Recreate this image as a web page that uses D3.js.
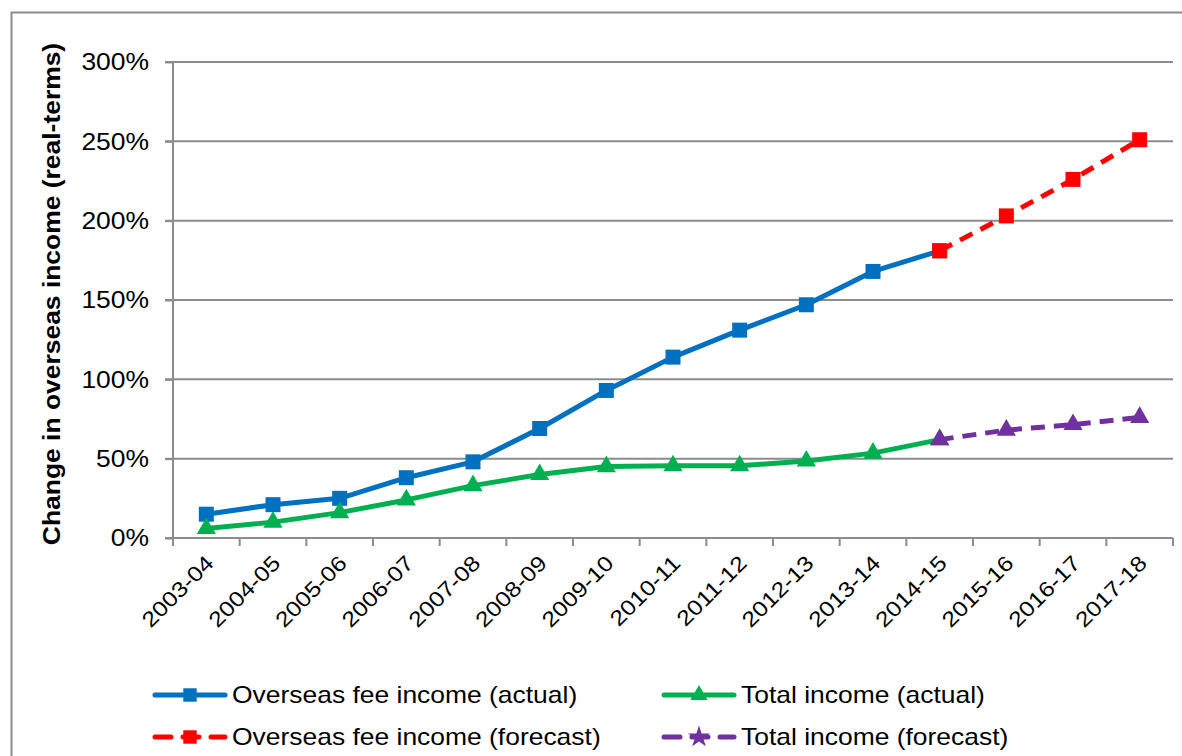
<!DOCTYPE html>
<html><head><meta charset="utf-8">
<script src="https://cdn.jsdelivr.net/npm/d3@7"></script>
<style>body{margin:0;background:#fff;}svg{display:block;font-family:"Liberation Sans",Arial,sans-serif;}</style>
</head><body><svg id="c" width="1182" height="756"></svg>
<script>
const categories = ["2003-04","2004-05","2005-06","2006-07","2007-08","2008-09","2009-10","2010-11","2011-12","2012-13","2013-14","2014-15","2015-16","2016-17","2017-18"];
const overseasActual = [15,21,25,38,48,69,93,114,131,147,168,181,null,null,null];
const totalActual = [6,10,16,24,33,40,45,45.5,45.5,48.5,53.5,62,null,null,null];
const overseasForecast = [null,null,null,null,null,null,null,null,null,null,null,181,203,226,251];
const totalForecast = [null,null,null,null,null,null,null,null,null,null,null,62,68,71.5,76];
const yTicks = [0,50,100,150,200,250,300];
const seriesNames = ["Overseas fee income (actual)","Total income (actual)","Overseas fee income (forecast)","Total income (forecast)"];

const svg = d3.select("#c");
const L=173, R=1173, T=62, B=538;
const SX = 1.15; // horizontal text stretch
const x = d3.scaleBand().domain(categories).range([L,R]);
const y = d3.scaleLinear().domain([0,300]).range([B,T]);
const grid="#8c8c8c";

// outer border
svg.append("path").attr("d",`M11.5,760 V12.5 H1190`).attr("fill","none").attr("stroke","#8c8c8c").attr("stroke-width",2);

// gridlines
svg.append("g").selectAll("line").data(yTicks.filter(d=>d>0)).join("line")
  .attr("x1",L-8).attr("x2",R).attr("y1",d=>y(d)).attr("y2",d=>y(d))
  .attr("stroke",grid).attr("stroke-width",2);

// y axis
const yAxis = d3.axisLeft(y).tickValues(yTicks).tickFormat("").tickSize(8);
const gy = svg.append("g").attr("transform",`translate(${L},0)`).call(yAxis);
gy.select(".domain").attr("stroke",grid).attr("stroke-width",2).attr("d",`M0,${T}V${B}`);
gy.selectAll(".tick line").attr("stroke",grid).attr("stroke-width",2);
svg.append("g").selectAll("text").data(yTicks).join("text")
  .attr("transform",d=>`translate(149,${y(d)}) scale(${SX},1)`)
  .attr("text-anchor","end").attr("dy","0.36em").attr("font-size",23).attr("fill","#000")
  .text(d=>d+"%");

// x axis baseline and ticks at band edges
svg.append("line").attr("x1",L-8).attr("x2",R).attr("y1",B).attr("y2",B).attr("stroke",grid).attr("stroke-width",2);
const edges = categories.map(c=>x(c)).concat([R]);
svg.append("g").selectAll("line").data(edges).join("line")
  .attr("x1",d=>d).attr("x2",d=>d).attr("y1",B).attr("y2",B+8).attr("stroke",grid).attr("stroke-width",2);
svg.append("g").selectAll("text").data(categories).join("text")
  .attr("transform",d=>`translate(${x(d)+x.bandwidth()/2-2},${B+16}) rotate(-45) scale(${SX},1)`)
  .attr("text-anchor","end").attr("dy","0.7em").attr("font-size",21.5).attr("fill","#000").text(d=>d);

// y title
svg.append("text").attr("transform",`translate(60,294) rotate(-90) scale(${SX},1)`)
  .attr("text-anchor","middle").attr("font-size",23).attr("font-weight","bold").attr("fill","#000")
  .text("Change in overseas income (real-terms)");

const cx = d=>x(d)+x.bandwidth()/2;
const line = d3.line().defined(d=>d.v!=null).x(d=>cx(d.c)).y(d=>y(d.v));
function pts(arr){return categories.map((c,i)=>({c,v:arr[i]}));}

const series = [
  {data:overseasActual,color:"#0070C0",dash:null,sym:"square"},
  {data:totalActual,color:"#00B050",dash:null,sym:"tri"},
  {data:overseasForecast,color:"#FF0000",dash:"14,9",sym:"square"},
  {data:totalForecast,color:"#7030A0",dash:"14,9",sym:"tri"}
];
series.forEach(s=>{
  svg.append("path").datum(pts(s.data)).attr("d",line).attr("fill","none")
    .attr("stroke",s.color).attr("stroke-width",5).attr("stroke-linejoin","round")
    .attr("stroke-dasharray",s.dash);
});
const sq = d3.symbol().type(d3.symbolSquare).size(225);
const tr = d3.symbol().type(d3.symbolTriangle).size(160);
series.forEach(s=>{
  svg.append("g").selectAll("path").data(pts(s.data).filter(d=>d.v!=null)).join("path")
    .attr("d",s.sym==="square"?sq():tr())
    .attr("transform",d=>`translate(${cx(d.c)},${y(d.v)})`).attr("fill",s.color);
});

// legend
const leg = [
  {x:155,y:695,color:"#0070C0",dash:null,sym:"square",name:seriesNames[0]},
  {x:664,y:695,color:"#00B050",dash:null,sym:"tri",name:seriesNames[1]},
  {x:155,y:737,color:"#FF0000",dash:"16,12",sym:"square",name:seriesNames[2]},
  {x:664,y:737,color:"#7030A0",dash:"16,12",sym:"star",name:seriesNames[3]}
];
leg.forEach(l=>{
  const g = svg.append("g");
  g.append("line").attr("x1",l.x).attr("x2",l.x+70).attr("y1",l.y).attr("y2",l.y)
    .attr("stroke",l.color).attr("stroke-width",5).attr("stroke-linecap","round").attr("stroke-dasharray",l.dash);
  const s = l.sym==="square"?d3.symbol().type(d3.symbolSquare).size(180)():
            l.sym==="tri"?d3.symbol().type(d3.symbolTriangle).size(130)():d3.symbol().type(d3.symbolStar).size(150)();
  g.append("path").attr("d",s).attr("transform",`translate(${l.x+35},${l.y})`).attr("fill",l.color);
  g.append("text").attr("transform",`translate(${l.x+77},${l.y}) scale(${SX},1)`)
    .attr("dy","0.36em").attr("font-size",23).attr("fill","#000").text(l.name);
});
</script></body></html>
